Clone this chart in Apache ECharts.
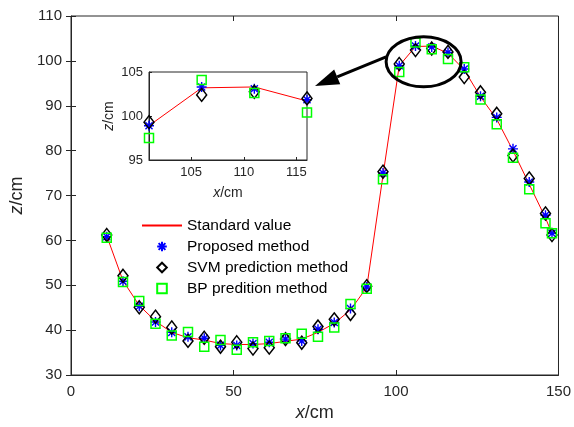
<!DOCTYPE html>
<html>
<head>
<meta charset="utf-8">
<script src="https://cdn.jsdelivr.net/npm/echarts@6/dist/echarts.min.js"></script>
<style>html,body{margin:0;padding:0;background:#fff}#c{width:574px;height:427px}</style>
</head>
<body>
<div id="c"></div>
<script>
// ---- data ----
const xValues   = [11,16,21,26,31,36,41,46,51,56,61,66,71,76,81,86,91,96,101,106,111,116,121,126,131,136,141,146,148];
const zStandard = [61.0,51.0,45.5,42.0,39.5,38.3,37.8,37.0,36.8,36.8,37.0,37.5,38.0,39.5,41.5,44.5,49.5,74.5,98.9,103.2,103.3,101.7,98.0,92.0,87.0,80.0,72.5,65.0,61.5];
const zProposed = [60.8,50.9,45.3,41.8,39.5,38.5,38.2,36.6,36.6,37.0,37.3,38.0,37.6,40.2,41.7,44.8,49.6,75.0,98.9,103.3,103.1,101.85,98.2,92.1,87.4,80.4,73.0,65.6,61.6];
const zSVM      = [61.2,52.1,45.1,43.0,40.6,37.6,38.3,36.3,37.3,35.9,36.1,38.0,37.2,40.8,42.4,43.6,49.8,75.3,99.3,102.4,102.75,102.0,96.4,93.0,88.2,78.9,73.8,66.0,61.2];
const zBP       = [60.6,50.7,46.5,41.4,38.8,39.6,36.3,37.8,35.6,37.3,37.6,38.2,39.2,38.5,40.6,45.8,49.2,73.6,97.5,104.1,102.6,100.4,98.6,91.4,85.9,78.4,71.4,63.8,61.6];
const seriesNames = ['Standard value','Proposed method','SVM prediction method','BP predition method'];
const mainXTicks = [0,50,100,150];
const mainYRange = [30,110];
const insetXRange = [101,116];
const insetXTicks = [105,110,115];
const insetYRange = [95,105];

const pairs = (ys) => xValues.map((x,i)=>[x, ys[i]]);
const insetPairs = (ys) => pairs(ys).filter(p => p[0] >= insetXRange[0] && p[0] <= insetXRange[1]);

const TXT = '#262626';
const starPath = 'path://M0,-10L0,10M-10,0L10,0M-7.07,-7.07L7.07,7.07M-7.07,7.07L7.07,-7.07';

function makeSeries(dataFn, xi, yi, withName) {
  const base = [
    { type:'line', data: dataFn(zStandard), symbol:'none', lineStyle:{color:'#ff0000', width:1}, itemStyle:{color:'#ff0000'} },
    { type:'line', data: dataFn(zProposed), symbol: starPath, symbolSize: 10, lineStyle:{width:0, color:'rgba(0,0,0,0)'},
      itemStyle:{color:'none', borderColor:'#0000ff', borderWidth:1.4} },
    { type:'line', data: dataFn(zSVM), symbol:'diamond', symbolSize:[10,13], lineStyle:{width:0, color:'rgba(0,0,0,0)'},
      itemStyle:{color:'none', borderColor:'#000000', borderWidth:1.5} },
    { type:'line', data: dataFn(zBP), symbol:'rect', symbolSize:9, lineStyle:{width:0, color:'rgba(0,0,0,0)'},
      itemStyle:{color:'none', borderColor:'#00ff00', borderWidth:1.5} }
  ];
  return base.map((s,i)=>Object.assign(s, {
    name: withName ? seriesNames[i] : undefined,
    xAxisIndex: xi, yAxisIndex: yi, animation:false, silent:true,
    emphasis:{disabled:true}
  }));
}

const chart = echarts.init(document.getElementById('c'), null, {renderer:'canvas'});
const nameRich = { i:{fontStyle:'italic', fontSize:18, color:TXT, fontFamily:'Liberation Sans'} };
const nameRichSmall = { i:{fontStyle:'italic', fontSize:14, color:TXT, fontFamily:'Liberation Sans'} };

chart.setOption({
  animation:false,
  backgroundColor:'#fff',
  textStyle:{fontFamily:'Liberation Sans'},
  grid:[
    {left:71, top:16, width:490, height:359, show:true, borderColor:TXT, borderWidth:1, backgroundColor:'#fff'},
    {left:149, top:72, width:158, height:88, show:true, borderColor:TXT, borderWidth:1, backgroundColor:'#fff', z:5}
  ],
  xAxis:[
    {gridIndex:0, type:'value', position:'bottom', min:0, max:150, interval:50,
     axisLine:{show:true, onZero:false, lineStyle:{color:TXT}}, splitLine:{show:false},
     axisTick:{inside:true, length:5, lineStyle:{color:TXT}},
     axisLabel:{fontSize:15, color:TXT, margin:9, customValues: mainXTicks},
     name:'{i|x}/cm', nameLocation:'middle', nameGap:26, nameTextStyle:{fontSize:18, color:TXT, rich:nameRich}},
    {gridIndex:0, type:'value', position:'top', min:0, max:150, interval:50,
     axisLine:{show:false}, splitLine:{show:false}, axisLabel:{show:false},
     axisTick:{inside:true, length:5, lineStyle:{color:TXT}}},
    {gridIndex:1, type:'value', position:'bottom', min:insetXRange[0], max:insetXRange[1], z:6,
     axisLine:{show:true, onZero:false, lineStyle:{color:TXT}}, splitLine:{show:false},
     axisTick:{inside:true, length:3, customValues: insetXTicks, lineStyle:{color:TXT}},
     axisLabel:{fontSize:13, color:TXT, margin:6, customValues: insetXTicks},
     name:'{i|x}/cm', nameLocation:'middle', nameGap:26, nameTextStyle:{fontSize:14, color:TXT, rich:nameRichSmall}}
  ],
  yAxis:[
    {gridIndex:0, type:'value', position:'left', min:mainYRange[0], max:mainYRange[1], interval:10,
     axisLine:{show:true, onZero:false, lineStyle:{color:TXT}}, splitLine:{show:false},
     axisTick:{inside:true, length:5, lineStyle:{color:TXT}},
     axisLabel:{fontSize:15, color:TXT, margin:9},
     name:'{i|z}/cm', nameLocation:'middle', nameGap:38, nameRotate:90, nameTextStyle:{fontSize:18, color:TXT, rich:nameRich}},
    {gridIndex:0, type:'value', position:'right', min:mainYRange[0], max:mainYRange[1], interval:10,
     axisLine:{show:false}, splitLine:{show:false}, axisLabel:{show:false},
     axisTick:{inside:true, length:5, lineStyle:{color:TXT}}},
    {gridIndex:1, type:'value', position:'left', min:insetYRange[0], max:insetYRange[1], interval:5, z:6,
     axisLine:{show:true, onZero:false, lineStyle:{color:TXT}}, splitLine:{show:false},
     axisTick:{inside:true, length:3, lineStyle:{color:TXT}},
     axisLabel:{fontSize:13, color:TXT, margin:6},
     name:'{i|z}/cm', nameLocation:'middle', nameGap:33, nameRotate:90, nameTextStyle:{fontSize:14, color:TXT, rich:nameRichSmall}}
  ],
  legend:{
    orient:'vertical', left:141, top:217, padding:0, itemGap:4, itemWidth:40, itemHeight:12,
    data: seriesNames.map((n,i)=> i===0 ? {name:n, itemStyle:{opacity:0}} : {name:n}),
    selectedMode:false,
    textStyle:{fontSize:15.5, color:'#000', fontFamily:'Liberation Sans', padding:[0,0,0,0], lineHeight:17}
  },
  series: [...makeSeries(pairs,0,0,true), ...makeSeries(insetPairs,2,2,false).map(s=>Object.assign(s,{z:7}))]
});

// annotation: ellipse around the peak and arrow pointing to the inset
const c = chart.convertToPixel({xAxisIndex:0, yAxisIndex:0}, [108.5, 99.8]);
const rx = 37.5, ry = 25;
const tail = [c[0]-rx, c[1]-5];
const tip = [315, 86];
const dx = tip[0]-tail[0], dy = tip[1]-tail[1];
const L = Math.sqrt(dx*dx+dy*dy), ux = dx/L, uy = dy/L;
const hl = 24, hw = 8;
const base = [tip[0]-ux*hl, tip[1]-uy*hl];
chart.setOption({
  graphic:[
    {type:'ellipse', shape:{cx:c[0], cy:c[1], rx:rx, ry:ry}, style:{fill:'none', stroke:'#000', lineWidth:3}, z:10, silent:true},
    {type:'line', shape:{x1:tail[0], y1:tail[1], x2:base[0], y2:base[1]}, style:{stroke:'#000', lineWidth:3}, z:10, silent:true},
    {type:'polygon', shape:{points:[tip, [base[0]-uy*hw, base[1]+ux*hw], [base[0]+uy*hw, base[1]-ux*hw]]}, style:{fill:'#000'}, z:10, silent:true}
  ]
});
</script>
</body>
</html>
